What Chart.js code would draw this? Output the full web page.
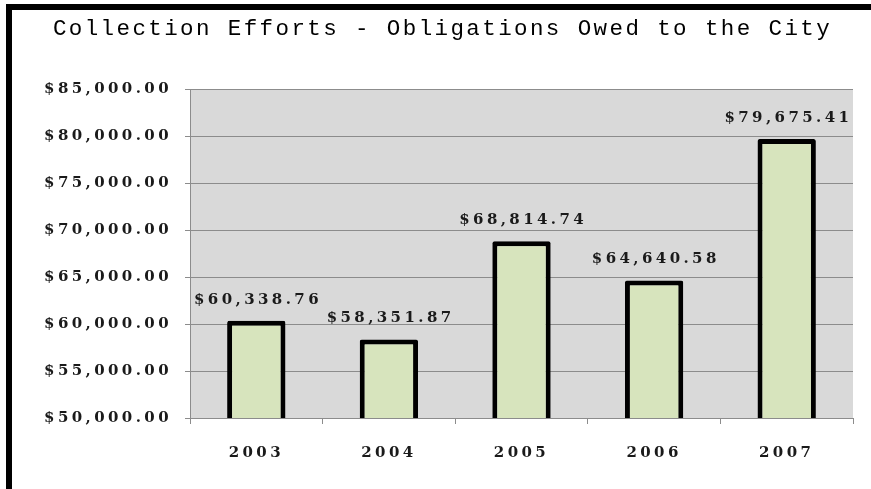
<!DOCTYPE html>
<html>
<head>
<meta charset="utf-8">
<script src="https://cdn.jsdelivr.net/npm/chart.js@4"></script>
<style>
  html, body { margin: 0; padding: 0; background: #fff; overflow: hidden; }
  #frame {
    position: absolute; left: 6px; top: 4px; width: 900px; height: 520px;
    border-left: 6px solid #000; border-top: 6px solid #000;
  }
  #chart { position: absolute; left: 0; top: 0; }
</style>
</head>
<body>
<div id="frame"></div>
<canvas id="chart" width="871" height="489"></canvas>
<script>
const years = ['2003', '2004', '2005', '2006', '2007'];
const collected = [60338.76, 58351.87, 68814.74, 64640.58, 79675.41];
const yMin = 50000;
const yMax = 85000;
const yStep = 5000;

const TITLE_FONT = '"Liberation Mono", "Courier New", monospace';
const LABEL_FONT = '"DejaVu Serif", serif';
const TITLE_SPACING = '2.4px';
const LABEL_SPACING = '3.4px';
const money = v => '$' + v.toLocaleString('en-US', { minimumFractionDigits: 2, maximumFractionDigits: 2 });

// canvas ignores CSS letter-spacing; title is drawn with one spacing,
// then tick labels (z:1, after datasets) and bar values with another
const spacing = {
  id: 'spacing',
  beforeLayout(chart) { chart.ctx.letterSpacing = LABEL_SPACING; },
  beforeDraw(chart) {
    const { ctx, chartArea: a } = chart;
    ctx.letterSpacing = TITLE_SPACING;
    // grey plot background behind the grid
    ctx.save();
    ctx.fillStyle = '#d9d9d9';
    ctx.fillRect(a.left, a.top, a.right - a.left, a.bottom - a.top);
    ctx.restore();
  },
  afterDatasetsDraw(chart) {
    const { ctx } = chart;
    ctx.letterSpacing = LABEL_SPACING;
    // value printed above each bar
    const meta = chart.getDatasetMeta(0);
    ctx.save();
    ctx.font = 'bold 15px ' + LABEL_FONT;
    ctx.fillStyle = '#1a1a1a';
    ctx.textAlign = 'center';
    ctx.textBaseline = 'alphabetic';
    meta.data.forEach((bar, i) => {
      ctx.fillText(money(chart.data.datasets[0].data[i]), bar.x + 1.7, bar.y - 17);
    });
    ctx.restore();
  },
};

new Chart(document.getElementById('chart'), {
  type: 'bar',
  data: {
    labels: years,
    datasets: [{
      data: collected,
      backgroundColor: '#d7e4bd',
      borderColor: '#000',
      borderWidth: 5,
      borderRadius: 2,
      borderSkipped: false,
      categoryPercentage: 1,
      barPercentage: 0.44,
    }],
  },
  options: {
    responsive: false,
    devicePixelRatio: 1,
    animation: false,
    layout: { padding: { left: 32, right: 18, top: 8, bottom: 0 } },
    plugins: {
      legend: { display: false },
      tooltip: { enabled: false },
      title: {
        display: true,
        text: 'Collection Efforts - Obligations Owed to the City',
        color: '#000',
        font: { family: TITLE_FONT, size: 22.5, weight: 'normal' },
        padding: { top: 7.5, bottom: 46.5 },
      },
    },
    scales: {
      x: {
        grid: { drawOnChartArea: false, offset: true, tickLength: 6, color: '#8c8c8c' },
        border: { color: '#8c8c8c' },
        ticks: { z: 1, color: '#1a1a1a', padding: 20, font: { family: LABEL_FONT, size: 15, weight: 'bold' } },
        afterFit(scale) { scale.height = 71; },
      },
      y: {
        min: yMin,
        max: yMax,
        grid: { color: '#8c8c8c', tickLength: 5 },
        border: { color: '#8c8c8c' },
        ticks: {
          z: 1,
          stepSize: yStep,
          color: '#1a1a1a',
          padding: 13,
          font: { family: LABEL_FONT, size: 15, weight: 'bold' },
          callback: v => money(v),
        },
        afterFit(scale) { scale.width = 158; },
      },
    },
  },
  plugins: [spacing],
});
</script>
</body>
</html>
